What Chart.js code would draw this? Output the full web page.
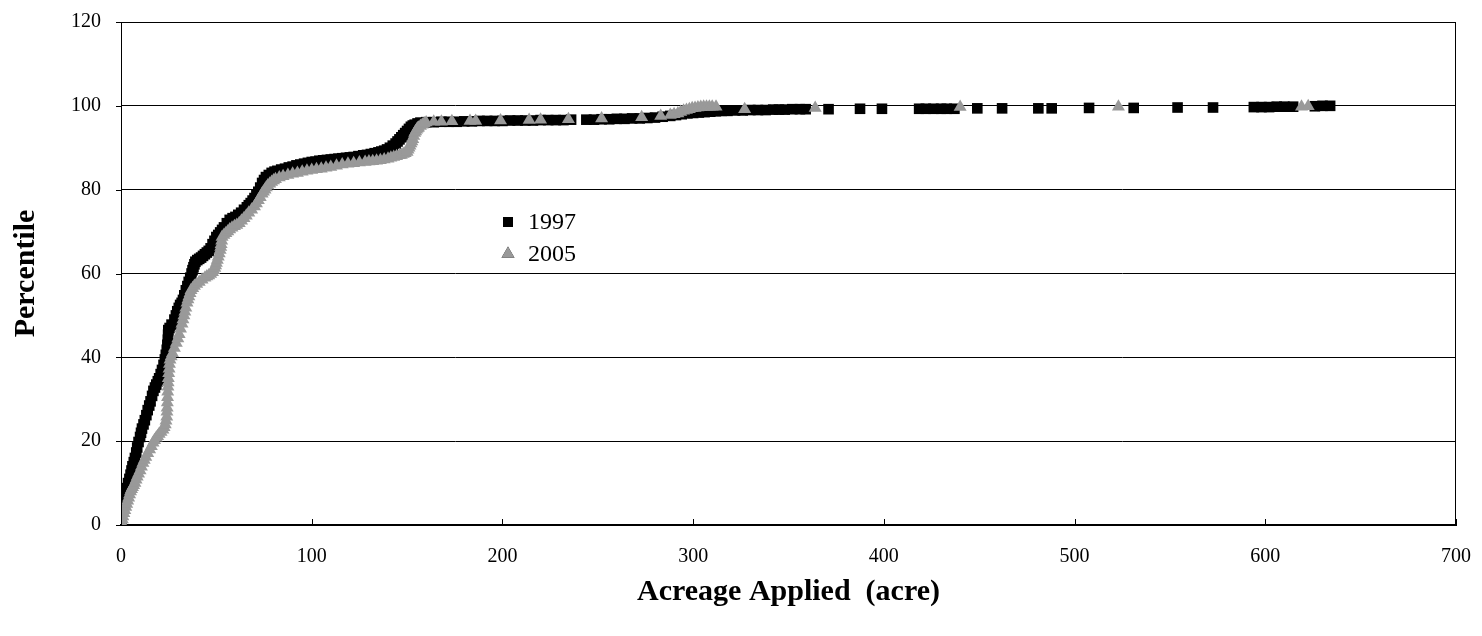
<!DOCTYPE html>
<html>
<head>
<meta charset="utf-8">
<script src="https://cdn.jsdelivr.net/npm/chart.js@4.4.0/dist/chart.umd.min.js"></script>
<style>
  html, body { margin: 0; padding: 0; background: #fff; }
  #wrap { width: 1482px; height: 636px; }
</style>
</head>
<body>
<div id="wrap"><canvas id="chart"></canvas></div>
<script>
// acreage applied vs percentile
var acre1997 = [0,0,0,0.3,1,1.5,2,2.5,3.2,3.7,
	4.4,5,5.5,6,6.7,7.3,8,8.5,9.2,10,
	10.5,11,11.8,12.5,13.3,14,14.8,15.5,16.3,17,
	17.8,18.5,19.3,20,20.8,21.5,22.3,23,23.5,24,
	24.3,24.6,24.7,24.8,25.5,26.5,28,28.8,29.5,30.3,
	31,31.8,32.5,33.2,34,34.8,35.5,36.3,37,37.5,
	38,38.5,39,40,41,42,43,44,45,46,
	47,48,49,50,51,52,53,54,55.5,57,
	58.5,60,61.5,63,64.5,66,67,68,69,70,
	71,72,73,74,75,76,77.5,79,80.5,82,
	84,86,88,90,92,94,96,98,100,102,
	104,106,108,110,112,114,116,118,120,122,
	124.5,127,129,131,133,135,136.5,138,139.5,141,
	142.5,144,145,146,147,148,149,150,151,152,
	153,154,155.5,157,160,164,168,172,176,180,
	184,188,192,196,200,204,208,212,216,220,
	224,228,232,236,244,248,252,256,260,264,
	268,272,276,280,284,288,291,294,297,300,
	303,306,309,312,315,318,322,326,330,334,
	338,342,345,348,352,356,359,371,387.5,399,
	418.5,422,426,430,433,437,449,462,481,488,
	507.6,531,554,572.6,594,598,602,606,610,614.6,
	626,630,634];
var pct1997 = [0.5,1.5,2.5,3.5,4.5,5.5,6.5,7.5,8.8,10,
	11,12,13,14,15,16,17.3,18.5,19.8,21,
	22,23,24,25,26.2,27.4,28.5,29.5,30.8,32,
	32.8,33.5,34.3,35,36,37,38.2,39.5,40.6,41.8,
	43,44.2,45.4,46.5,47,47.8,49,50,51,51.8,
	52.5,53,53.7,54.8,56,57,58,59,60,60.8,
	61.5,62.2,62.8,63.2,63.5,63.8,64.2,64.6,65,65.4,
	66,67,67.8,68.7,69.2,69.8,70.4,71,72,72.8,
	73.2,73.5,74,74.5,75.2,75.8,76.3,76.8,77.4,78,
	78.8,79.5,80.5,81.6,82.3,83,83.5,84,84.3,84.5,
	84.8,85,85.3,85.5,85.8,86,86.2,86.4,86.6,86.7,
	86.9,87,87.1,87.2,87.3,87.4,87.5,87.6,87.7,87.8,
	88,88.2,88.3,88.5,88.7,88.9,89.1,89.3,89.6,90,
	90.5,91,91.5,92,92.5,93,93.5,94,94.5,95,
	95.3,95.5,95.8,96,96.1,96.1,96.2,96.2,96.2,96.3,
	96.3,96.4,96.4,96.4,96.4,96.5,96.5,96.5,96.5,96.6,
	96.6,96.6,96.6,96.7,96.7,96.7,96.8,96.8,96.9,96.9,
	97,97,97.1,97.2,97.4,97.6,97.8,98,98.2,98.3,
	98.4,98.5,98.6,98.7,98.8,98.8,98.9,98.9,99,99,
	99,99.1,99.1,99.1,99.2,99.2,99.2,99.2,99.3,99.3,
	99.3,99.3,99.3,99.3,99.3,99.3,99.4,99.4,99.4,99.4,
	99.5,99.5,99.6,99.6,99.7,99.7,99.7,99.8,99.8,99.8,
	99.9,100,100];

var acre2005 = [0,0.3,0.7,1,1.5,2,2.5,3,3.5,4,
	4.5,5,5.5,6,6.6,7.3,7.9,8.5,9.2,10,
	10.7,11.5,12.2,13,14,15,15.9,16.8,17.6,18.5,
	19.2,20,21,22,22.6,23.2,23.6,24,24.1,24.2,
	24.3,24.4,24.5,24.6,24.7,24.8,25,25.2,25.4,25.7,
	26.3,27,28,29,29.8,30.5,31.2,32,32.5,33,
	33.5,34,34.6,35.1,35.6,36.2,36.7,37.6,38.5,39.7,
	41,42.5,44,45,46,47,48,48.6,49.2,49.6,
	50,50.5,51,51.5,52,52.3,52.5,52.8,53,54,
	55,56,57,58.2,59.5,60.7,62,63.2,64.5,65.7,
	67,68.5,70,71,72,73,74,74.7,75.5,76.2,
	77,78,79,80,81,83,85,87.5,90,92.5,
	95,97.5,100,102.5,105,107.5,110,113,116,119,
	122,125,128,130,132,134,136,138,140,141.5,
	143,144.5,146,147,148,149,150,150.5,151,151.5,
	152,152.5,153,153.5,154,154.5,155,155.5,156,157,
	158,159,160,164,168,173.5,183,186,199,214,
	220,234.6,252,273,283,288,290,292,293.5,295,
	296.5,298,299.5,301,302.5,304,305.5,307,308.5,310,
	312,327,364,440,523,619,622.5];
var pct2005 = [0,0.5,1.3,2,2.8,3.5,4.3,5,5.8,6.5,
	7.3,8,8.5,9,9.5,10,10.8,11.5,12.2,13,
	13.9,14.8,15.5,16.2,17.1,18,18.8,19.6,20.2,20.8,
	21.2,21.7,22.2,22.7,23.3,24,24.9,25.8,27,28,
	29.2,30.5,31.8,33,34,35,36.2,37.3,38.4,39.4,
	40.2,41,42.2,43.4,44.5,45.5,46.8,48,49,50,
	50.9,51.8,53,53.8,54.5,55.3,56,56.5,57,57.5,
	58,58.5,59,59.3,59.5,59.9,60.3,60.8,61.3,61.9,
	62.5,63.2,64,64.8,65.6,66.3,67,67.8,68.7,69.2,
	69.6,70,70.5,70.9,71.3,71.6,72,72.6,73.2,73.8,
	74.5,75.2,76,76.7,77.5,78.2,79,79.5,80,80.5,
	81,81.4,81.8,82.2,82.5,82.9,83.2,83.5,83.8,84,
	84.3,84.5,84.7,84.9,85,85.2,85.4,85.7,86,86.2,
	86.3,86.5,86.6,86.7,86.8,86.9,87,87.2,87.4,87.6,
	87.8,88,88.2,88.3,88.5,88.7,89,89.5,90,90.5,
	91,91.5,92,92.8,93.5,93.9,94.3,94.6,94.8,95.2,
	95.5,95.8,96,96.2,96.2,96.3,96.4,96.4,96.5,96.6,
	96.7,96.8,97,97.3,97.6,97.8,98,98.2,98.5,98.8,
	99,99.2,99.4,99.5,99.6,99.7,99.8,99.8,99.8,99.8,
	99.8,99.2,99.5,99.7,99.8,99.8,99.9];

var seriesNames = ["1997", "2005"];
var xTicks = [0, 100, 200, 300, 400, 500, 600, 700];
var yTicks = [0, 20, 40, 60, 80, 100, 120];

function toPoints(xs, ys) {
	var out = [];
	for (var i = 0; i < xs.length; i++) out.push({ x: xs[i], y: ys[i] });
	return out;
}

var serif = "'Liberation Serif', 'Times New Roman', serif";

// box round the plot, short tick marks, legend inside the plot
var extras = {
	id: 'extras',
	afterDraw: function(chart) {
		var ctx = chart.ctx;
		var a = chart.chartArea;
		var xs = chart.scales.x;
		var ys = chart.scales.y;
		ctx.save();
		ctx.strokeStyle = '#000';
		ctx.lineWidth = 1;
		ctx.strokeRect(a.left + 0.5, a.top + 0.5, a.right - a.left - 1, a.bottom - a.top);
		ctx.beginPath();
		xTicks.forEach(function(v) {
			var px = Math.round(xs.getPixelForValue(v)) + 0.5;
			ctx.moveTo(px, a.bottom);
			ctx.lineTo(px, a.bottom - 6);
		});
		yTicks.forEach(function(v) {
			var py = Math.round(ys.getPixelForValue(v)) + 0.5;
			ctx.moveTo(a.left - 5, py);
			ctx.lineTo(a.left, py);
		});
		ctx.stroke();

		var lx = 508, ly = 222, gap = 32;
		chart.data.datasets.forEach(function(ds, i) {
			Chart.helpers.drawPoint(ctx, {
				pointStyle: ds.pointStyle,
				radius: ds.legendRadius,
				borderWidth: 0
			}, lx, ly + i * gap);
			ctx.fillStyle = ds.backgroundColor;
			ctx.fill();
			ctx.fillStyle = '#000';
			ctx.font = '24px ' + serif;
			ctx.textAlign = 'left';
			ctx.textBaseline = 'middle';
			ctx.fillText(ds.label, lx + 20, ly + i * gap + 1);
		});
		ctx.restore();
	}
};

var ctx = document.getElementById('chart');
var myChart = new Chart(ctx, {
	type: 'scatter',
	data: {
		datasets: [
			{ label: seriesNames[0], data: toPoints(acre1997, pct1997), order: 1,
			  pointStyle: 'rect', pointRadius: 7.5, legendRadius: 7,
			  backgroundColor: '#000', borderColor: '#000', borderWidth: 0 },
			{ label: seriesNames[1], data: toPoints(acre2005, pct2005), order: 0,
			  pointStyle: 'triangle', pointRadius: 7.5, legendRadius: 7.5,
			  backgroundColor: '#999999', borderColor: '#999999', borderWidth: 0 }
		]
	},
	options: {
		responsive: true,
		maintainAspectRatio: false,
		animation: false,
		layout: { padding: { left: 0, right: 26, top: 22, bottom: 0 } },
		plugins: {
			legend: { display: false },
			tooltip: { enabled: false }
		},
		scales: {
			x: {
				type: 'linear', min: 0, max: 700,
				afterBuildTicks: function(s) { s.ticks = xTicks.map(function(v) { return { value: v }; }); },
				afterFit: function(s) { s.height = 111; },
				// invisible tick marks only push the labels down
				grid: { display: true, drawOnChartArea: false, drawTicks: true, tickLength: 20, tickColor: 'rgba(0,0,0,0)', color: 'rgba(0,0,0,0)' },
				border: { display: true, color: '#000', width: 2 },
				ticks: { color: '#000', padding: 0, maxRotation: 0, font: { family: serif, size: 20 } },
				title: { display: true, text: 'Acreage Applied  (acre)', color: '#000',
					padding: { top: 0, bottom: 26 }, font: { family: serif, size: 30, weight: 'bold' } }
			},
			y: {
				type: 'linear', min: 0, max: 120,
				afterBuildTicks: function(s) { s.ticks = yTicks.map(function(v) { return { value: v }; }); },
				afterFit: function(s) { s.width = 121; },
				grid: { color: '#000', lineWidth: 1, drawTicks: true, tickLength: 20, tickColor: 'rgba(0,0,0,0)' },
				border: { display: true, color: '#000', width: 1 },
				ticks: { color: '#000', padding: 0, font: { family: serif, size: 20 } },
				title: { display: true, text: 'Percentile', color: '#000',
					padding: { top: 8, bottom: 0 }, font: { family: serif, size: 30, weight: 'bold' } }
			}
		}
	},
	plugins: [extras]
});
</script>
</body>
</html>
